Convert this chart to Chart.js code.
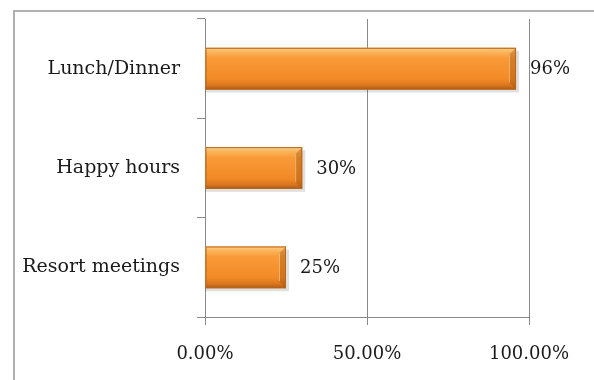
<!DOCTYPE html>
<html>
<head>
<meta charset="utf-8">
<script src="https://cdn.jsdelivr.net/npm/chart.js@4.4.1/dist/chart.umd.min.js"></script>
<style>
  html, body { margin: 0; padding: 0; background: #fff; overflow: hidden; }
  #wrap { position: relative; width: 594px; height: 380px; }
  #frame { position: absolute; left: 13px; top: 10px; width: 700px; height: 500px;
           border-left: 2px solid #b0b0b0; border-top: 2px solid #b0b0b0; }
  canvas { position: absolute; left: 0; top: 0; }
</style>
</head>
<body>
<div id="wrap">
  <div id="frame"></div>
  <canvas id="grafico" width="594" height="380"></canvas>
</div>
<script>
// dados do gráfico
const categorias = ['Lunch/Dinner', 'Happy hours', 'Resort meetings'];
const valores = [96, 30, 25];
const ticksX = [0, 50, 100];

const fonte = "'DejaVu Serif', 'Liberation Serif', serif";

// sombra atrás das barras
const sombraBarras = {
    id: 'sombraBarras',
    beforeDatasetsDraw(chart) {
        const ctx = chart.ctx;
        const meta = chart.getDatasetMeta(0);
        ctx.save();
        meta.data.forEach(bar => {
            const p = bar.getProps(['x', 'y', 'base', 'height'], true);
            const top = p.y - p.height / 2;
            ctx.fillStyle = 'rgba(0,0,0,0.12)';
            ctx.fillRect(p.base, top + 3, p.x - p.base + 3, p.height);
        });
        ctx.restore();
    }
};

// brilho e bisel das barras + rótulos
const efeitoBarras = {
    id: 'efeitoBarras',
    afterDatasetsDraw(chart) {
        const ctx = chart.ctx;
        const meta = chart.getDatasetMeta(0);
        ctx.save();
        meta.data.forEach((bar, i) => {
            const p = bar.getProps(['x', 'y', 'base', 'height'], true);
            const top = p.y - p.height / 2;
            const h = p.height;
            const left = p.base;
            const right = p.x;

            const g = ctx.createLinearGradient(0, top, 0, top + h);
            g.addColorStop(0, '#fcd08a');
            g.addColorStop(0.1, '#fbb55c');
            g.addColorStop(0.25, '#f99a38');
            g.addColorStop(0.75, '#f28a26');
            g.addColorStop(0.9, '#d9761f');
            g.addColorStop(1, '#a95a18');
            ctx.fillStyle = g;
            ctx.fillRect(left, top, right - left, h);

            // bisel na ponta direita
            const b = 7;
            ctx.fillStyle = 'rgba(150,75,10,0.35)';
            ctx.beginPath();
            ctx.moveTo(right - b, top + b);
            ctx.lineTo(right, top);
            ctx.lineTo(right, top + h);
            ctx.lineTo(right - b, top + h - b);
            ctx.closePath();
            ctx.fill();
            ctx.strokeStyle = 'rgba(255,220,160,0.6)';
            ctx.lineWidth = 1;
            ctx.beginPath();
            ctx.moveTo(right - b + 0.5, top + b);
            ctx.lineTo(right - b + 0.5, top + h - b);
            ctx.stroke();

            ctx.strokeStyle = '#b8661c';
            ctx.strokeRect(left + 0.5, top + 0.5, right - left - 1, h - 1);

            // rótulo
            ctx.fillStyle = '#1a1a1a';
            ctx.font = '18px ' + fonte;
            ctx.textAlign = 'left';
            ctx.textBaseline = 'middle';
            ctx.fillText(valores[i] + '%', right + 14, p.y + 1);
        });
        ctx.restore();
    }
};

new Chart(document.getElementById('grafico'), {
    type: 'bar',
    data: {
        labels: categorias,
        datasets: [{
            data: valores,
            backgroundColor: '#f28a26',
            borderWidth: 0,
            barPercentage: 0.42,
            categoryPercentage: 1.0
        }]
    },
    options: {
        indexAxis: 'y',
        responsive: false,
        animation: false,
        layout: { padding: { top: 19, right: 65, left: 0, bottom: 0 } },
        plugins: {
            legend: { display: false },
            tooltip: { enabled: false }
        },
        scales: {
            x: {
                min: 0,
                max: 100,
                afterBuildTicks: scale => {
                    scale.ticks = ticksX.map(v => ({ value: v }));
                },
                afterFit: scale => { scale.height = 63; },
                grid: { color: '#8a8a8a', lineWidth: 1, tickLength: 8, drawTicks: true },
                border: { display: true, color: '#8a8a8a' },
                ticks: {
                    padding: 19,
                    color: '#1a1a1a',
                    font: { family: fonte, size: 18 },
                    callback: v => v.toFixed(2) + '%'
                }
            },
            y: {
                afterFit: scale => {
                    scale.width = 205;
                    scale.paddingTop = 0;
                    scale.paddingBottom = 0;
                },
                grid: { drawOnChartArea: false, color: '#8a8a8a', tickLength: 8, offset: true },
                border: { display: true, color: '#8a8a8a' },
                ticks: {
                    padding: 17,
                    color: '#1a1a1a',
                    font: { family: fonte, size: 19 }
                }
            }
        }
    },
    plugins: [sombraBarras, efeitoBarras]
});
</script>
</body>
</html>
